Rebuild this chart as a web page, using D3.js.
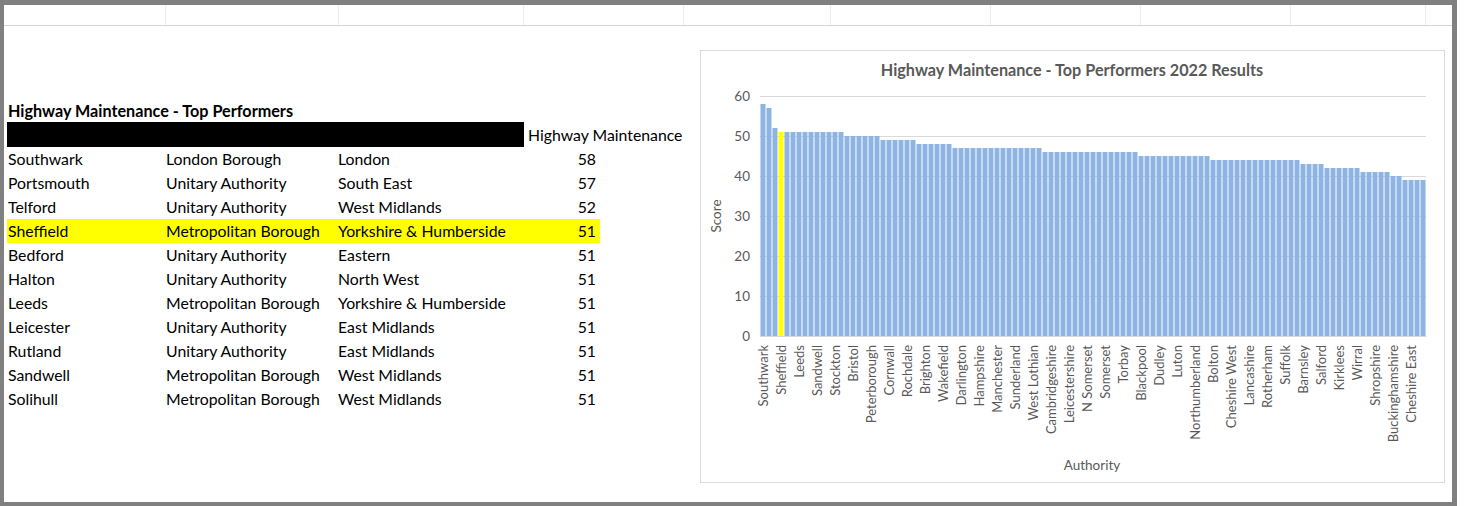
<!DOCTYPE html>
<html><head><meta charset="utf-8">
<script src="https://cdn.jsdelivr.net/npm/d3@7"></script>
<style>html,body{margin:0;padding:0;background:#fff;}svg{display:block;}</style>
</head><body>
<script>
// ---------- data ----------
const tableTitle = "Highway Maintenance - Top Performers";
const tableHeader = "Highway Maintenance";
const tableNames = ["Southwark","Portsmouth","Telford","Sheffield","Bedford","Halton","Leeds","Leicester","Rutland","Sandwell","Solihull"];
const tableTypes = ["London Borough","Unitary Authority","Unitary Authority","Metropolitan Borough","Unitary Authority","Unitary Authority","Metropolitan Borough","Unitary Authority","Unitary Authority","Metropolitan Borough","Metropolitan Borough"];
const tableRegions = ["London","South East","West Midlands","Yorkshire & Humberside","Eastern","North West","Yorkshire & Humberside","East Midlands","East Midlands","West Midlands","West Midlands"];
const tableScores = [58,57,52,51,51,51,51,51,51,51,51];
const highlightName = "Sheffield";

const chartTitle = "Highway Maintenance - Top Performers 2022 Results";
const yTicks = [0,10,20,30,40,50,60];
const authorities = [
 "Southwark","Portsmouth","Telford","Sheffield","Bedford","Halton","Leeds","Leicester","Rutland","Sandwell","Solihull","Southend","Stockton","Wokingham",
 "Bournemouth","Bristol","Derby","Kent","Peterborough","Windsor",
 "Bury","Cornwall","Coventry","Hartlepool","Rochdale","York",
 "Barnet","Brighton","Derbyshire","Norfolk","Wakefield","Walsall",
 "Calderdale","Darlington","Devon","Gateshead","Hampshire","Hertfordshire","Knowsley","Manchester","Oldham","Stockport","Sunderland","Swindon","Trafford","West Lothian","Wigan",
 "Bexley","Cambridgeshire","Croydon","Essex","Leicestershire","Lincolnshire","Medway","N Somerset","Nottingham","Slough","Somerset","Southampton","Thurrock","Torbay","Warwickshire","Worcestershire",
 "Blackpool","Bradford","Doncaster","Dudley","Gloucestershire","Islington","Luton","Middlesbrough","Newcastle","Northumberland","Plymouth","Reading",
 "Bolton","Bromley","Camden","Cheshire West","Cumbria","Dorset","Lancashire","Lewisham","Oxfordshire","Rotherham","Sefton","Stoke","Suffolk","Surrey","Tameside",
 "Barnsley","Hull","Merton","Salford",
 "Enfield","Hackney","Kirklees","Newham","Sutton","Wirral",
 "Ealing","Harrow","Shropshire","Walsall MBC","Wandsworth",
 "Buckinghamshire","Westminster",
 "Birmingham","Cheshire East","Haringey","Lambeth"
];
const scores = [
 58,57,52,51,51,51,51,51,51,51,51,51,51,51,
 50,50,50,50,50,50,
 49,49,49,49,49,49,
 48,48,48,48,48,48,
 47,47,47,47,47,47,47,47,47,47,47,47,47,47,47,
 46,46,46,46,46,46,46,46,46,46,46,46,46,46,46,46,
 45,45,45,45,45,45,45,45,45,45,45,45,
 44,44,44,44,44,44,44,44,44,44,44,44,44,44,44,
 43,43,43,43,
 42,42,42,42,42,42,
 41,41,41,41,41,
 40,40,
 39,39,39,39
];
const xLabelEvery = 3;

// ---------- drawing ----------
const W = 1465, H = 506;
const svg = d3.select("body").append("svg").attr("width", W).attr("height", H);
const FONT = "Lato, 'Open Sans', sans-serif";

// spreadsheet frame
svg.append("rect").attr("x",0).attr("y",0).attr("width",W).attr("height",H).attr("fill","#fff");
svg.append("rect").attr("x",0).attr("y",0).attr("width",1457).attr("height",5).attr("fill","#808080");
svg.append("rect").attr("x",0).attr("y",0).attr("width",4).attr("height",H).attr("fill","#808080");
svg.append("rect").attr("x",1452).attr("y",0).attr("width",5).attr("height",H).attr("fill","#808080");
svg.append("rect").attr("x",0).attr("y",H-4).attr("width",1457).attr("height",4).attr("fill","#808080");
svg.append("line").attr("x1",4).attr("x2",1452).attr("y1",25.5).attr("y2",25.5).attr("stroke","#d4d4d4");
[165,338,523,683,830,990,1140,1290,1425].forEach(x=>{
  svg.append("line").attr("x1",x+0.5).attr("x2",x+0.5).attr("y1",5).attr("y2",25).attr("stroke","#ececec");
});

// ---------- table ----------
const FS = 15.8;
const tbl = svg.append("g").attr("font-family", FONT).attr("fill","#000");
tbl.append("text").attr("x",8).attr("y",117).attr("font-size",16.2).attr("font-weight","bold").text(tableTitle);
tbl.append("rect").attr("x",7).attr("y",122).attr("width",517).attr("height",25).attr("fill","#000");
tbl.append("text").attr("x",528).attr("y",141).attr("font-size",FS).text(tableHeader);
const rowY = d3.scaleBand().domain(d3.range(tableNames.length)).range([147, 147+24*tableNames.length]);
tableNames.forEach((n,i)=>{
  const y0 = rowY(i);
  if (n === highlightName) {
    tbl.append("rect").attr("x",7).attr("y",y0).attr("width",593).attr("height",rowY.bandwidth()).attr("fill","#ffff00");
  }
  const by = y0 + 17.5;
  tbl.append("text").attr("x",8).attr("y",by).attr("font-size",FS).text(n);
  tbl.append("text").attr("x",166).attr("y",by).attr("font-size",FS).text(tableTypes[i]);
  tbl.append("text").attr("x",338).attr("y",by).attr("font-size",FS).text(tableRegions[i]);
  tbl.append("text").attr("x",596).attr("y",by).attr("font-size",FS).attr("text-anchor","end").text(tableScores[i]);
});

// ---------- chart ----------
svg.append("rect").attr("x",700.5).attr("y",50.5).attr("width",744).attr("height",432).attr("fill","#fff").attr("stroke","#d9d9d9");
svg.append("text").attr("x",1072).attr("y",76).attr("text-anchor","middle").attr("font-family",FONT)
  .attr("font-size",16.2).attr("font-weight","bold").attr("fill","#595959").text(chartTitle);

const x = d3.scaleBand().domain(authorities).range([760, 1426]).paddingInner(0.17).paddingOuter(0.08);
const y = d3.scaleLinear().domain([0,60]).range([336, 96]);

// gridlines
svg.append("g").selectAll("line").data(yTicks).join("line")
  .attr("x1",760).attr("x2",1426).attr("y1",d=>Math.round(y(d))+0.5).attr("y2",d=>Math.round(y(d))+0.5)
  .attr("stroke","#d9d9d9");

// bars
svg.append("g").selectAll("rect").data(authorities).join("rect")
  .attr("x",d=>x(d)).attr("width",x.bandwidth())
  .attr("y",(d,i)=>y(scores[i])).attr("height",(d,i)=>y(0)-y(scores[i]))
  .attr("fill",d=> d===highlightName ? "#ffff00" : "#8db4e3");

// y axis
const yAxis = svg.append("g").attr("transform","translate(760,0)")
  .call(d3.axisLeft(y).tickValues(yTicks).tickSize(0).tickPadding(10));
yAxis.select(".domain").remove();
yAxis.selectAll("text").attr("font-family",FONT).attr("font-size",13.5).attr("fill","#595959");

// x axis
const xAxis = svg.append("g").attr("transform","translate(0,336)")
  .call(d3.axisBottom(x).tickValues(authorities.filter((d,i)=>i%xLabelEvery===0)).tickSize(0).tickPadding(0));
xAxis.select(".domain").attr("stroke","#d9d9d9");
xAxis.selectAll("text")
  .attr("font-family",FONT).attr("font-size",13).attr("fill","#595959")
  .attr("transform","rotate(-90)").attr("text-anchor","end")
  .attr("x",-9).attr("y",0).attr("dy","0.35em");

// axis titles
svg.append("text").attr("transform","translate(721,216) rotate(-90)").attr("text-anchor","middle")
  .attr("font-family",FONT).attr("font-size",13.5).attr("fill","#595959").text("Score");
svg.append("text").attr("x",1092).attr("y",470).attr("text-anchor","middle")
  .attr("font-family",FONT).attr("font-size",13.5).attr("fill","#595959").text("Authority");
</script>
</body></html>
